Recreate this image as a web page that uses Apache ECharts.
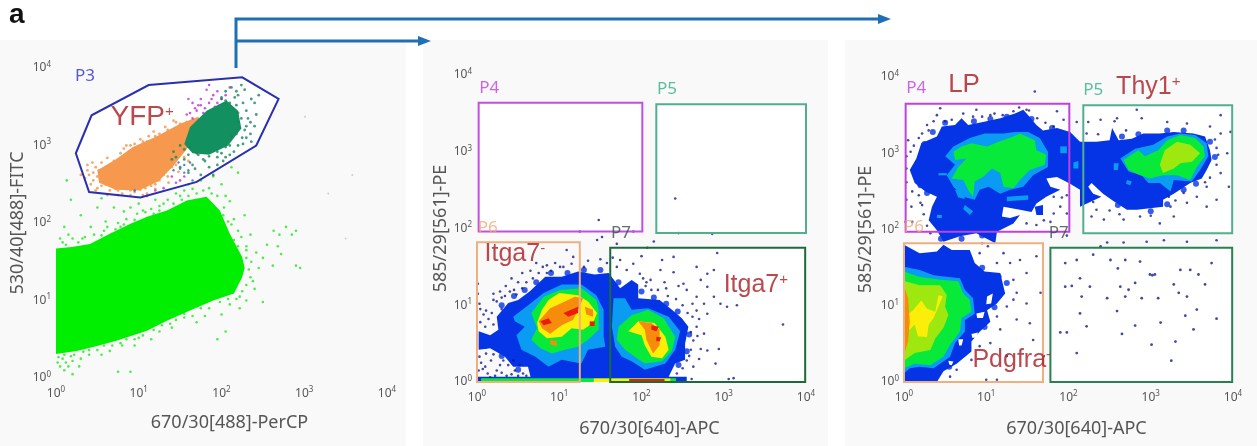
<!DOCTYPE html>
<html><head><meta charset="utf-8">
<style>html,body{margin:0;padding:0;background:#fff}#c{width:1257px;height:446px;filter:blur(.6px)}</style>
<script src="https://cdn.jsdelivr.net/npm/echarts@6/dist/echarts.min.js"></script>
</head><body><div id="c"></div>
<script>
// All coordinates below are [log10(x), log10(y)].
const tickExponents=[0,1,2,3,4];
const xNames=['670/30[488]-PerCP','670/30[640]-APC','670/30[640]-APC'];
const yNames=['530/40[488]-FITC','585/29[561]-PE','585/29[561]-PE'];

// Panel 1
const gateP3=[[.24,2.9],[.43,3.39],[1.12,3.78],[2.25,3.88],[2.69,3.6],[2.42,3.0],[1.7,2.53],[1.02,2.33],[.4,2.4]];
const greenCloud=[[0,1.67],[.19,1.69],[.41,1.73],[.65,1.86],[.9,1.99],[1.1,2.08],[1.34,2.16],[1.58,2.29],[1.82,2.34],[1.98,2.16],[2.1,1.86],[2.25,1.56],[2.28,1.42],[2.25,1.3],[2.15,1.09],[1.9,1],[1.62,.87],[1.34,.74],[1.1,.61],[.73,.48],[.45,.4],[.25,.35],[0,.31]];
const orangeCloud=[[.5,2.68],[.72,2.82],[.93,2.98],[1.22,3.12],[1.5,3.28],[1.72,3.37],[1.78,3.2],[1.6,2.98],[1.42,2.74],[1.24,2.54],[1,2.42],[.72,2.43],[.52,2.52]];
const tealCloud=[[1.55,3.02],[1.62,3.24],[1.82,3.45],[2.06,3.58],[2.2,3.45],[2.24,3.22],[2.08,3],[1.85,2.88],[1.65,2.9]];
const greenDots=[[.05,1.8],[.1,1.95],[.2,1.8],[.3,2.1],[.18,2.3],[.13,2.55],[.42,1.95],[.5,2.2],[.6,2.02],[.7,2.2],[.75,2.0],[.82,2.15],[.55,2.32],[.9,2.2],[1,2.25],[1.05,2.16],[1.2,2.3],[1.25,2.22],[1.35,2.3],[1.45,2.38],[1.55,2.42],[1.6,2.5],[1.75,2.55],[1.85,2.45],[1.9,2.6],[2,2.5],[2.05,2.35],[2.12,2.72],[2.2,2.65],[2.1,2.28],[2.15,2.05],[2.2,1.9],[2.28,2.1],[2.35,1.85],[2.3,1.7],[2.42,1.62],[2.5,1.55],[2.55,1.72],[2.45,1.42],[2.35,1.3],[2.4,1.15],[2.5,.98],[2.3,1.0],[2.22,.9],[2.1,.95],[2,.82],[1.95,.5],[2.05,.6],[1.8,.8],[1.7,.72],[1.55,.78],[1.4,.65],[1.25,.6],[1.15,.5],[1,.52],[.95,.42],[.8,.42],[.65,.35],[.55,.3],[.4,.3],[.3,.25],[.2,.22],[.12,.2],[.05,.15],[.1,.1],[.2,.05],[.75,.08],[.9,.08],[2.63,1.9],[2.7,1.85],[2.78,1.95],[2.85,1.85],[2.9,1.9],[2.68,1.7],[2.72,1.6],[2.62,1.45],[2.9,1.45],[2.95,1.42],[.15,1.85],[.35,1.82],[.46,1.85],[.62,1.95],[.72,1.92],[.85,2.05],[.98,2.12],[1.15,2.18],[1.3,2.25],[1.5,2.35],[1.65,2.44],[1.78,2.42],[1.95,2.35],[2.03,2.2],[2.12,1.98],[2.24,1.82],[2.3,1.55],[2.33,1.4],[2.3,1.2],[2.18,1.02],[1.98,.98],[1.85,.9],[1.65,.8],[1.45,.75],[1.28,.68],[1.05,.55],[.85,.5],[.68,.42],[.5,.36],[.33,.34],[.18,.28],[.08,.25],[.08,1.75],[.12,1.72],[.27,1.75],[.32,1.8],[.55,1.84],[.58,1.9],[.78,1.95],[.82,1.98],[.95,2.04],[1.08,2.14],[1.18,2.12],[1.25,2.16],[1.42,2.25],[1.52,2.3],[1.6,2.35],[1.7,2.38],[1.88,2.38],[2.02,2.1],[2.08,2.02],[2.15,1.78],[2.2,1.7],[2.3,1.65],[2.36,1.5],[2.38,1.25],[2.25,1.12],[2.22,1.05],[2.08,1.02],[1.75,.9],[1.55,.83],[1.38,.7],[1.18,.62],[.95,.5],[.78,.45],[.58,.42],[.4,.36],[.22,.3],[.1,.3],[.03,.27],[.02,.2],[.15,.15],[.28,.15]];
const orangeDots=[[.38,2.75],[.45,2.65],[.42,2.5],[.55,2.55],[.6,2.7],[.7,2.8],[.78,2.9],[.85,3.0],[.95,3.02],[1.05,3.05],[1.12,3.12],[1.25,3.15],[1.35,3.2],[1.45,3.3],[.5,2.45],[.65,2.42],[.8,2.38],[1.1,2.38],[1.2,2.5],[1.35,2.6],[1.45,2.75],[1.55,2.85],[1.62,3],[.48,2.72],[.58,2.62],[.65,2.75],[.75,2.72],[.88,2.92],[.98,2.96],[1.15,3.05],[1.3,3.12],[.72,2.44],[.9,2.42],[1.15,2.48],[1.3,2.62],[1.42,2.82],[.4,2.62],[.45,2.55],[.5,2.6],[.52,2.68],[.55,2.48],[.6,2.5],[.62,2.58],[.66,2.66],[.68,2.48],[.72,2.78],[.8,2.85],[.84,2.78],[.9,2.85],[.75,2.42],[.85,2.44],[.95,2.4],[1.02,2.43],[1.08,2.45],[1.25,2.55],[1.32,2.68],[1.4,2.72],[1.48,2.9],[1.52,2.96],[1.02,3.0],[1.1,3.05],[1.2,3.12],[1.38,3.18],[1.5,3.28],[1.58,3.3],[.35,2.58],[.38,2.68],[.3,2.62],[.44,2.78],[.55,2.78],[.62,2.84],[.82,2.96],[.9,3.0],[1.02,3.08],[1.18,3.18],[1.32,3.24],[1.42,3.32],[.48,2.42],[.62,2.36],[.75,2.36],[.9,2.36],[1.05,2.36],[1.2,2.44],[1.36,2.52],[1.48,2.66],[1.6,2.8]];
const tealDots=[[1.55,2.95],[1.45,2.85],[1.65,2.75],[1.8,2.8],[1.95,2.75],[2.05,2.85],[2.2,3],[2.3,3.1],[2.35,3.3],[2.4,3.25],[2.3,3.45],[2.4,3.55],[2.45,3.65],[2.2,3.65],[2.12,3.75],[2.28,3.72],[2.05,3.7],[1.5,2.72],[1.6,2.65],[1.75,2.62],[1.9,2.62],[1.6,2.88],[1.72,2.88],[1.85,2.86],[2.0,2.9],[2.15,2.92],[2.28,3.2],[2.32,3.35],[2.26,3.55],[2.16,3.62],[2.2,3.3],[2.2,3.42],[2.18,3.15],[2.25,3.1],[2.1,3],[2.05,2.98],[1.95,2.92],[1.78,2.82],[1.7,2.9],[1.55,2.82],[1.62,2.98],[1.95,2.85],[2.1,3.55],[2.05,3.58],[2.18,3.52],[2.24,3.35],[2.3,3.25],[2.12,3.12],[2,3.62],[2.35,3.15],[1.4,2.82],[1.42,2.92],[1.5,3.0],[1.68,2.7],[1.85,2.72],[2.02,2.8],[2.1,2.88],[2.26,3.02],[2.36,3.05],[2.42,3.4],[2.36,3.6],[2.24,3.78],[2.18,3.7]];
const magentaDots=[[1.7,3.45],[1.75,3.6],[1.85,3.55],[1.9,3.65],[1.95,3.7],[2,3.6],[2.1,3.75],[1.82,3.72],[1.65,3.55],[1.58,3.4],[1.6,3.6],[1.95,3.55],[2.05,3.65],[1.85,3.78],[1.4,2.6],[1.45,2.52],[1.55,2.6],[1.3,2.45],[1.5,2.55],[1.1,2.35],[1.2,2.42],[1.65,3.35],[1.72,3.52],[1.8,3.48],[1.88,3.6],[1.78,3.42],[1.92,3.5],[1.98,3.52],[1.68,3.48],[1.62,3.42],[1.75,3.52]];
const blueDots=[[1.5,2.7],[1.55,2.65],[1.6,2.68],[1.65,2.55],[.95,2.42],[1.55,2.75],[1.48,2.78],[1.62,2.78],[1.42,2.68],[2,3.6],[2.04,3.52]];
const grayDots=[[3.58,2.62],[3.01,3.37],[3.29,2.38],[3.5,1.8]];

// Panel 2
const gate2P4=[[.02,1.96],[2.01,1.96],[2.01,3.64],[.02,3.64]];
const gate2P5=[[2.18,1.94],[4,1.94],[4,3.62],[2.18,3.62]];
const gate2P6=[[0,0],[1.25,0],[1.25,1.82],[0,1.82]];
const gate2P7=[[1.62,0],[3.99,0],[3.99,1.75],[1.62,1.75]];
const itgaBlue=[[.02,.66],[.16,.61],[.26,.68],[.24,.85],[.38,1.03],[.5,1.07],[.64,1.18],[.83,1.37],[1.03,1.37],[1.23,1.44],[1.43,1.4],[1.6,1.42],[1.68,1.31],[1.74,1.22],[1.88,1.33],[1.96,1.27],[1.96,1.09],[2.22,1.07],[2.37,.94],[2.49,.83],[2.57,.72],[2.53,.5],[2.53,.29],[2.41,.24],[2.33,.07],[2.51,.03],[.66,.03],[.62,.2],[.44,.2],[.34,.33],[.16,.44],[.02,.42]];
const itgaLumps=[[.3,1],[.45,1.12],[.58,1.2],[.72,1.3],[.9,1.42],[1.1,1.42],[1.3,1.46],[1.5,1.46],[1.72,1.3],[2,1.18],[2.15,1.1],[2.3,1.02],[2.44,.92],[2.58,.62],[2.55,.4],[2.45,.22],[.5,.16],[.3,.34],[.1,.47]];
const itgaCyan=[[[.44,.85],[.68,1.05],[.81,1.16],[1.03,1.27],[1.27,1.27],[1.45,1.13],[1.54,.94],[1.54,.59],[1.56,.46],[1.35,.42],[1.27,.24],[1.03,.29],[.87,.2],[.71,.33],[.54,.42],[.48,.61],[.58,.72],[.46,.79]],[[1.66,1.09],[1.8,1.09],[1.88,.94],[2.08,.96],[2.33,.85],[2.47,.66],[2.41,.42],[2.29,.24],[2.04,.16],[1.88,.27],[1.76,.33],[1.68,.46],[1.64,.72]]];
const itgaGreen=[[[.66,.9],[.81,1.11],[1.01,1.2],[1.27,1.22],[1.45,1.07],[1.48,.94],[1.48,.68],[1.35,.55],[1.23,.46],[1.07,.42],[.91,.37],[.77,.44],[.66,.55],[.73,.7]],[[1.72,.72],[1.88,.87],[2.08,.94],[2.27,.83],[2.41,.59],[2.37,.4],[2.25,.27],[2.04,.24],[1.92,.33],[1.8,.42],[1.7,.55]]];
const itgaYellow=[[[.73,.77],[.79,.94],[.87,1.07],[1,1.16],[1.23,1.13],[1.35,1.05],[1.46,.9],[1.41,.77],[1.29,.68],[1.15,.7],[1.03,.59],[.85,.57],[.75,.66]],[[1.84,.66],[1.96,.79],[2.16,.77],[2.29,.59],[2.33,.42],[2.25,.31],[2.12,.33],[2.04,.48],[2,.61]]];
const itgaOrange=[[[.75,.79],[.89,.96],[1.03,1.03],[1.19,1.11],[1.29,1.09],[1.23,.94],[1.17,.81],[1.03,.74],[.89,.63],[.79,.7]],[[1.31,.98],[1.41,.94],[1.41,.85],[1.33,.88]],[[.89,.55],[.97,.53],[.97,.47],[.89,.49]],[[1.96,.79],[2.12,.77],[2.22,.68],[2.22,.48],[2.14,.37],[2.06,.55],[2.04,.68]]];
const itgaRed=[[[.77,.79],[.87,.83],[.91,.77],[.81,.74]],[[1.05,.9],[1.23,.98],[1.23,.9],[1.11,.85]],[[1.37,.79],[1.43,.79],[1.43,.73],[1.37,.73]],[[2.12,.74],[2.21,.72],[2.18,.66],[2.12,.68]],[[2.18,.59],[2.24,.58],[2.22,.53],[2.18,.53]]];
const stripBlue=[[0,0],[2.55,0],[2.55,.07],[0,.07]];
const stripGreen=[[.05,0],[2.42,0],[2.42,.05],[.05,.05]];
const stripYellow=[[1.42,0],[2.35,0],[2.35,.045],[1.42,.045]];
const stripRed=[[1.85,0],[2.28,0],[2.28,.04],[1.85,.04]];
const itgaDots=[[.03,1.02],[.11,.93],[.2,1.07],[.01,1.28],[.01,1.15],[.24,1.05],[.3,1.1],[.2,1.15],[.35,1.25],[.45,1.2],[.5,1.3],[.42,1.35],[.55,1.42],[.65,1.45],[.72,1.55],[.8,1.5],[.85,1.42],[.95,1.55],[1.05,1.5],[1.09,1.72],[1.17,1.63],[1.15,1.54],[.85,1.52],[1.01,1.5],[1.48,2.11],[1.46,1.85],[1.52,1.89],[1.7,1.8],[2.15,1.83],[1.25,1.96],[1.9,1.96],[2.41,2.39],[2.45,1.94],[2.86,1.93],[2.92,1.68],[2.07,1.75],[2,1.64],[2.25,1.59],[2.39,1.63],[1.74,1.59],[1.65,1.62],[1.7,1.5],[1.9,1.54],[1.82,1.46],[1.98,1.41],[2.11,1.33],[2.23,1.46],[2.39,1.43],[2.51,1.28],[2.67,1.5],[2.8,1.41],[2.88,1.46],[2.72,1.33],[2.8,1.24],[2.55,1.2],[2.67,1.11],[2.76,1.02],[2.88,1.11],[2.96,1.02],[3.04,.98],[3.16,1],[2.67,.93],[2.8,.89],[2.67,.72],[2.76,.63],[2.63,.54],[2.72,.43],[2.94,.43],[2.8,.41],[2.9,.24],[2.55,.28],[2.63,.2],[2.43,.11],[2.61,.04],[3.06,.04],[3.12,.05],[3.72,.75],[.03,.33],[.11,.37],[.17,.28],[.07,.17],[.24,.15],[.32,.28],[.38,.22],[.46,.15],[.52,.22],[.56,.11],[.13,.11],[.28,.22],[.44,.28],[.6,.08],[.05,.25],[.2,.36],[1.3,1.5],[1.35,1.58],[1.5,1.6],[1.58,1.55],[2.05,1.25],[2.3,1.22],[2.45,1.25],[2.62,1.02],[2.7,.82],[2.6,.65],[.04,.95],[.08,.88],[.14,.82],[.18,.9],[.04,.78],[.1,.72],[.2,.75],[.3,.95],[.34,1.12],[.28,1.18],[.4,1.18],[.48,1.14],[.55,1.22],[.6,1.3],[.68,1.35],[.75,1.42],[.9,1.45],[2.02,1.35],[2.06,1.3],[2.12,1.2],[2.2,1.2],[2.28,1.3],[2.32,1.12],[2.42,1.08],[2.5,1],[2.56,.9],[2.62,.85],[2.68,.6],[2.6,.42],[2.58,.34],[2.7,.3],[2.5,.18],[.02,.15],[.1,.2],[.16,.06],[.22,.08],[.3,.12],[.36,.08],[.42,.1],[.5,.08]];

// Panel 3
const gate3P4=[[.02,1.97],[2.01,1.97],[2.01,3.65],[.02,3.65]];
const gate3P5=[[2.18,1.95],[3.99,1.95],[3.99,3.63],[2.18,3.63]];
const gate3P6=[[0,0],[1.69,0],[1.69,1.82],[0,1.82]];
const gate3P7=[[1.78,0],[3.99,0],[3.99,1.76],[1.78,1.76]];
const lpBlue=[[.15,2.93],[.21,3.13],[.4,3.22],[.46,3.35],[.62,3.37],[.7,3.46],[.78,3.37],[.96,3.41],[1.17,3.46],[1.35,3.52],[1.45,3.57],[1.51,3.5],[1.61,3.37],[1.69,3.3],[1.86,3.33],[2.02,3.28],[2.14,3.15],[2.34,3.15],[2.5,3.17],[2.53,3.33],[2.61,3.17],[2.77,3.19],[2.91,3.26],[3.11,3.26],[3.28,3.28],[3.52,3.26],[3.66,3.22],[3.72,3.04],[3.74,2.91],[3.68,2.78],[3.62,2.67],[3.48,2.61],[3.28,2.47],[3.15,2.39],[3.15,2.3],[2.83,2.26],[2.71,2.26],[2.55,2.37],[2.42,2.47],[2.28,2.61],[2.24,2.56],[2.3,2.47],[2.4,2.43],[2.14,2.3],[2.14,2.52],[2.02,2.6],[1.86,2.69],[1.73,2.67],[1.78,2.56],[1.9,2.52],[1.73,2.43],[1.61,2.34],[1.55,2.23],[1.41,2.26],[1.21,2.3],[1.19,2.17],[1.29,2.15],[1.41,2.19],[1.33,2.08],[1.13,1.97],[1.11,1.82],[.88,1.95],[.68,1.91],[.48,1.84],[.4,1.99],[.3,2.12],[.34,2.3],[.4,2.43],[.26,2.5],[.13,2.61],[.07,2.78]];
const lpBlueBits=[[[1.59,2.3],[1.69,2.32],[1.69,2.19],[1.61,2.19]]];
const lpLumps=[[.5,3.4],[.85,3.42],[1.05,3.45],[1.25,3.48],[1.55,3.45],[1.8,3.33],[2.65,3.22],[2.85,3.25],[3.2,3.3],[3.4,3.3],[3.72,3.15],[3.78,2.95],[3.55,2.6],[3.4,2.52],[3.2,2.33],[3,2.24],[2.6,2.32],[.45,1.88],[.7,1.88],[.95,1.92],[.2,2.58],[.28,2.48],[.25,3.12],[.35,3.28],[1.25,1.3],[1.15,1.38],[.95,1.5],[1.1,.98],[.98,.72],[.75,.48],[.55,.2]];
const pdgBlue=[[0,1.8],[.19,1.69],[.4,1.71],[.48,1.8],[.58,1.73],[.8,1.73],[.86,1.56],[.98,1.45],[1.17,1.43],[1.23,1.16],[1.13,1.03],[1.01,.94],[1.05,.79],[.92,.66],[.82,.53],[.82,.4],[.64,.24],[.48,.14],[.4,0],[0,0]];
const pdgHoles=[[[1.01,1.12],[1.08,1.16],[1.06,1.03],[1,1.02]],[[.88,.9],[.98,.92],[.96,.84],[.89,.84]],[[.82,.63],[.9,.65],[.88,.58],[.83,.58]],[[.66,.56],[.72,.56],[.7,.48],[.67,.48]],[[.54,.28],[.6,.27],[.58,.22],[.55,.23]]];
const pdgCyan=[[0,1.51],[.19,1.47],[.36,1.4],[.68,1.36],[.74,1.21],[.84,1.1],[.86,.9],[.74,.81],[.74,.66],[.62,.51],[.56,.33],[.36,.18],[.19,.2],[.07,.18],[0,.11]];
const pdgGreen=[[0,1.45],[.18,1.38],[.44,1.34],[.66,1.32],[.72,1.16],[.8,1.08],[.82,.92],[.7,.84],[.68,.66],[.56,.49],[.48,.33],[.32,.22],[.13,.24],[0,.18]];
const pdgLime=[[.01,1.32],[.19,1.27],[.44,1.27],[.52,1.14],[.5,.99],[.54,.88],[.48,.71],[.38,.57],[.32,.42],[.13,.38],[.01,.29]];
const pdgYellow=[[.04,.88],[.11,.94],[.21,1.07],[.28,.96],[.38,.92],[.42,1.14],[.47,1.12],[.36,.84],[.3,.75],[.28,.59],[.17,.6],[.13,.75],[.04,.66]];
const pdgOrange=[[0,1.27],[.05,1.1],[.07,.79],[.05,.53],[0,.35]];
const lpCyan=[[[.5,2.96],[.6,3.09],[.8,3.2],[.98,3.26],[1.21,3.26],[1.35,3.28],[1.51,3.28],[1.65,3.2],[1.75,3.02],[1.75,2.82],[1.57,2.71],[1.45,2.56],[1.29,2.52],[1.17,2.47],[1.03,2.56],[.92,2.52],[.86,2.39],[.72,2.43],[.6,2.56],[.52,2.71],[.62,2.85]],[[2.63,2.93],[2.81,3.06],[3.03,3.11],[3.2,3.22],[3.36,3.26],[3.54,3.24],[3.68,3.13],[3.7,2.96],[3.6,2.78],[3.5,2.63],[3.28,2.65],[3.24,2.5],[3.11,2.61],[2.97,2.61],[2.89,2.71],[2.73,2.76]],[[1.25,2.43],[1.51,2.45],[1.51,2.39],[1.25,2.37]],[[.74,2.32],[.84,2.24],[.8,2.19],[.72,2.27]],[[.4,2.19],[.46,2.19],[.46,2.15],[.4,2.15]],[[.42,2.74],[.52,2.74],[.52,2.71],[.42,2.71]],[[1.9,3.09],[1.98,3.09],[1.98,3],[1.9,3]],[[.62,2.52],[.72,2.5],[.74,2.4],[.66,2.42]],[[2.06,2.88],[2.12,2.9],[2.12,2.8],[2.06,2.8]],[[2.55,2.87],[2.61,2.87],[2.6,2.78],[2.55,2.78]],[[2.71,2.65],[2.77,2.63],[2.75,2.58],[2.7,2.6]]];
const lpGreen=[[[.6,3.02],[.7,3.09],[.82,3.13],[1.01,3.09],[1.15,3.15],[1.33,3.22],[1.41,3.26],[1.59,3.17],[1.61,3.04],[1.73,2.98],[1.71,2.85],[1.53,2.78],[1.41,2.65],[1.33,2.54],[1.21,2.56],[1.17,2.74],[1.07,2.8],[.96,2.69],[.86,2.63],[.84,2.43],[.78,2.52],[.72,2.65],[.58,2.67],[.66,2.82],[.76,2.93],[.62,2.91]],[[2.67,2.91],[2.85,3.04],[2.93,2.96],[3.09,3.04],[3.2,3.17],[3.36,3.24],[3.54,3.2],[3.64,3.09],[3.66,2.96],[3.56,2.82],[3.48,2.65],[3.32,2.71],[3.15,2.71],[2.99,2.67],[2.87,2.71],[2.73,2.78]]];
const lpLime=[[3.11,2.85],[3.17,3.04],[3.32,3.15],[3.48,3.11],[3.6,3],[3.5,2.89],[3.36,2.87],[3.28,2.8],[3.15,2.74]];
const lpDots=[[.4,3.5],[.28,3.37],[.05,3.17],[.03,2.96],[.22,3.26],[.44,3.59],[.88,3.57],[.84,3.48],[1.05,3.5],[1.33,3.55],[1.59,3.81],[1.86,3.55],[1.94,3.44],[1.82,3.35],[1.49,3.57],[2.1,3.41],[2.24,3.41],[2.22,3.26],[2.39,3.44],[2.59,3.46],[2.83,3.57],[2.89,3.46],[3.2,3.41],[3.44,3.39],[3.72,3.35],[3.85,3.5],[3.97,3.28],[3.85,3.26],[3.8,3.07],[3.93,3],[3.85,2.74],[3.95,2.56],[3.68,2.56],[3.56,2.43],[3.44,2.35],[3.24,2.3],[3.28,2.17],[3.22,2.43],[3.8,2.39],[3.68,2.3],[2.87,2.17],[2.67,2.13],[2.34,2.26],[2.28,2.17],[2.43,2.13],[3.11,2.08],[1.9,2.3],[1.82,2.21],[1.98,2.21],[1.49,2.08],[1.61,2.06],[1.82,2.43],[.03,2.39],[.09,2.3],[.2,2.35],[2.47,1.83],[2.67,1.83],[2.95,1.84],[3.16,1.86],[3.44,1.84],[3.8,1.86],[2.39,1.78],[.92,1.69],[1.13,1.56],[1.29,1.56],[1.41,1.6],[1.61,1.65],[1.21,1.69],[1.33,1.34],[1.49,1.43],[1.66,1.17],[1.37,1.17],[1.25,.99],[1.49,1.03],[1.13,.86],[1.37,.82],[1.53,.77],[1.17,.69],[1.05,.51],[.92,.47],[1.25,.34],[1.57,.55],[1.7,.34],[1.13,.03],[1,.03],[.56,.07],[.64,.16],[.82,.29],[1.33,1.08],[.08,3.02],[.12,3.1],[.18,3.2],[.3,3.3],[.36,3.42],[.5,3.42],[.58,3.44],[.72,3.52],[.95,3.48],[1.1,3.52],[1.2,3.5],[1.4,3.6],[1.52,3.56],[1.62,3.46],[1.72,3.4],[.03,2.8],[.03,2.62],[.1,2.5],[.18,2.45],[.22,2.32],[.24,2.2],[.28,2.05],[.32,1.95],[.02,2.1],[.1,2.1],[1.7,2.12],[1.78,2.1],[1.92,2.42],[1.98,2.45],[3.78,3.18],[3.82,2.98],[3.8,2.85],[3.72,2.68],[3.66,2.62],[2.56,3.42],[2.7,3.3],[2.36,3.25],[2.3,2.36],[2.5,2.25],[2.62,2.2],[3,2.18],[3.3,2.38],[3.4,2.48],[1.98,1.92],[.95,1.82],[1.02,1.78]];
const p7Dots=[[1.96,1.56],[2.1,1.6],[2.14,1.36],[2.3,1.67],[2.51,1.6],[2.6,1.49],[2.69,1.6],[2.87,1.58],[2.99,1.41],[3.02,1.4],[3.05,1.41],[3.48,1.47],[3.36,1.47],[3.58,1.41],[3.66,1.28],[3.74,1.56],[3.28,1.28],[2.81,1.3],[2.73,1.21],[2.63,1.25],[2.26,1.25],[1.96,1.25],[2.04,1.26],[2.16,1.12],[2.47,1.1],[2.69,1.12],[2.89,1.1],[3.09,1.1],[3.34,1.17],[3.44,1.12],[2.14,.9],[2.59,.93],[3.12,.78],[2.81,.74],[2.22,.73],[3.56,.95],[3.42,.87],[3.8,.83],[3.52,.69],[2.65,.63],[1.9,.65],[1.98,.65],[3.01,.49],[3.3,.53],[2.1,.38],[3.25,.28]];

// Gate labels and annotations: [log10 x, log10 y, text]
const labels1=[[.35,3.89,'P3'],[1.04,3.37,'YFP{s|+}']];
const labels2=[[.15,3.83,'P4'],[2.31,3.81,'P5'],[.13,2,'P6'],[1.75,1.94,'P7'],[.46,1.67,'Itga7{s|-}'],[3.39,1.26,'Itga7{s|+}']];
const labels3=[[.15,3.85,'P4'],[.73,3.9,'LP'],[2.3,3.83,'P5'],[2.97,3.87,'Thy1{s|+}'],[.12,2.03,'P6'],[1.88,1.95,'P7'],[1.31,.29,'Pdgfra{s|-}']];

const GRIDS=[{left:56,top:68,width:331,height:310},{left:477,top:75,width:329,height:307},{left:904,top:77,width:329,height:305}];
const toVal=p=>[Math.pow(10,p[0]),Math.pow(10,p[1])];
const series=[];
function poly(g,pts,fill,stroke,w,z){
  series.push({type:'custom',xAxisIndex:g,yAxisIndex:g,clip:false,silent:true,z:z||2,
    coordinateSystem:'cartesian2d',data:pts.map(toVal),encode:{x:0,y:1},
    renderItem:(params,api)=>{
      if(params.dataIndex!==0)return null;
      const points=pts.map(p=>api.coord(toVal(p)));
      return {type:'polygon',shape:{points},style:{fill:fill||'none',stroke:stroke||'none',lineWidth:w||0}};
    }});
}
function dots(g,pts,color,size,z){
  series.push({type:'scatter',xAxisIndex:g,yAxisIndex:g,silent:true,z:z||3,symbolSize:size,
    itemStyle:{color},data:pts.map(toVal)});
}
const C={blue:'#0533e6',cyan:'#0a9cf2',green:'#08ea3a',lime:'#9ee80f',yellow:'#fbef0a',orange:'#f78c0c',red:'#ea1c0c',navy:'#141a8c'};
const many=(g,list,c,z)=>list.forEach(p=>poly(g,p,c,null,0,z));

// Panel 1
poly(0,gateP3,'#fff',null,0,1);
poly(0,greenCloud,'#00ee00',null,0,2);
dots(0,greenDots,'#22e822',2.6,3);
dots(0,orangeDots,'#f2944a',2.8,3);
poly(0,orangeCloud,'#f6994e',null,0,4);
dots(0,magentaDots,'#c030d8',2.6,4);
dots(0,blueDots,'#2f60c0',2.4,4);
dots(0,tealDots,'#14885a',2.8,5);
poly(0,tealCloud,'#13905f',null,0,5);
dots(0,grayDots,'#b8c8b8',2,3);
poly(0,gateP3,null,'#2a2fb0',2,6);
// Panel 2
[gate2P4,gate2P5,gate2P7].forEach(p=>poly(1,p,'#fff',null,0,1));
poly(1,itgaBlue,C.blue,null,0,2);
dots(1,itgaLumps,C.blue,6,2);
many(1,itgaCyan,C.cyan,3);many(1,itgaGreen,C.green,4);many(1,itgaYellow,C.yellow,5);many(1,itgaOrange,C.orange,6);many(1,itgaRed,C.red,7);
poly(1,stripBlue,C.blue,null,0,3);poly(1,stripGreen,C.green,null,0,4);poly(1,stripYellow,C.yellow,null,0,5);poly(1,stripRed,C.red,null,0,6);
dots(1,itgaDots,C.navy,2.6,3);
poly(1,gate2P4,null,'#c050e0',2,8);poly(1,gate2P5,null,'#50b08c',2,8);poly(1,gate2P6,null,'#eeb080',2,8);poly(1,gate2P7,null,'#1c6a3c',2,8);
// Panel 3
[gate3P4,gate3P5,gate3P6,gate3P7].forEach(p=>poly(2,p,'#fff',null,0,1));
poly(2,lpBlue,C.blue,null,0,2);many(2,lpBlueBits,C.blue,2);poly(2,pdgBlue,C.blue,null,0,2);
dots(2,lpLumps,C.blue,6,2);
many(2,pdgHoles,'#fff',3);
many(2,lpCyan,C.cyan,3);many(2,lpGreen,C.green,4);poly(2,lpLime,C.lime,null,0,5);
poly(2,pdgCyan,C.cyan,null,0,3);poly(2,pdgGreen,C.green,null,0,4);poly(2,pdgLime,C.lime,null,0,5);poly(2,pdgYellow,C.yellow,null,0,6);poly(2,pdgOrange,C.orange,null,0,7);
dots(2,lpDots,C.navy,2.6,3);dots(2,p7Dots,C.navy,2.8,3);
poly(2,gate3P4,null,'#c040e0',2,8);poly(2,gate3P5,null,'#50b08c',2,8);poly(2,gate3P6,null,'#eeb080',2,8);poly(2,gate3P7,null,'#2a8050',2,8);

// Labels
const gateColor={P3:'#2a2fd0',P4:'#c040e0',P5:'#30b080',P6:'#f2a878',P7:'#34503e'};
const bigSize=t=>t.indexOf('YFP')===0?28:t==='LP'?26:25;
[labels1,labels2,labels3].forEach((list,g)=>{
  series.push({type:'scatter',xAxisIndex:g,yAxisIndex:g,silent:true,z:10,symbolSize:1,
    itemStyle:{color:'rgba(0,0,0,0)'},
    data:list.map(l=>{
      const gc=gateColor[l[2]];
      return {value:toVal(l),label:{show:true,position:'inside',formatter:l[2],
        color:gc||'#a81c22',fontSize:gc?17:bigSize(l[2]),fontFamily:gc?'Noto Sans':'Liberation Sans',
        rich:{s:{fontSize:15,color:'#a81c22',padding:[0,0,10,0],fontFamily:'Liberation Sans'}}}};
    })});
});

const axisLabel={color:'#555',fontFamily:'Noto Sans',hideOverlap:false,showMinLabel:true,showMaxLabel:true,
  formatter:v=>'{b|10}{s|'+Math.round(Math.log10(v))+'}',
  rich:{b:{fontSize:12,color:'#555',fontFamily:'Noto Sans'},s:{fontSize:8,color:'#555',padding:[0,0,7,0],fontFamily:'Noto Sans'}}};
const yGap=[29,27,29];
const mk=(type,i)=>({type:'log',logBase:10,min:Math.pow(10,tickExponents[0]),max:Math.pow(10,tickExponents[4]),gridIndex:i,
  axisLine:{show:false},axisTick:{show:false},splitLine:{show:false},minorTick:{show:false},
  axisLabel:Object.assign({margin:type==='x'?8:5},axisLabel),
  name:type==='x'?xNames[i]:yNames[i],nameLocation:'center',nameGap:type==='x'?(i===0?36:38):yGap[i],
  nameTextStyle:Object.assign({color:'#555',fontSize:18,fontFamily:'Noto Sans'},type==='x'?{padding:[0,0,0,16]}:{})});

const arrow='#1f6fb5';
const chart=echarts.init(document.getElementById('c'),null,{renderer:'canvas'});
chart.setOption({animation:false,backgroundColor:'#fff',
  grid:GRIDS,
  xAxis:[0,1,2].map(i=>mk('x',i)),yAxis:[0,1,2].map(i=>mk('y',i)),
  series,
  graphic:[
    {type:'rect',z:-1,silent:true,shape:{x:0,y:40,width:406,height:406},style:{fill:'#faf9fa'}},
    {type:'rect',z:-1,silent:true,shape:{x:423,y:40,width:405,height:406},style:{fill:'#faf9fa'}},
    {type:'rect',z:-1,silent:true,shape:{x:845,y:40,width:412,height:406},style:{fill:'#faf9fa'}},
    {type:'text',silent:true,left:9,top:1,style:{text:'a',fontSize:28,fontWeight:'bold',fontFamily:'Liberation Sans',fill:'#111'}},
    {type:'polyline',silent:true,shape:{points:[[236,68],[236,19],[880,19]]},style:{stroke:arrow,fill:'none',lineWidth:3}},
    {type:'polyline',silent:true,shape:{points:[[236,41],[420,41]]},style:{stroke:arrow,fill:'none',lineWidth:3}},
    {type:'polygon',silent:true,shape:{points:[[878,14],[891,19],[878,24]]},style:{fill:arrow}},
    {type:'polygon',silent:true,shape:{points:[[418,36],[431,41],[418,46]]},style:{fill:arrow}}
  ]});
</script></body></html>
